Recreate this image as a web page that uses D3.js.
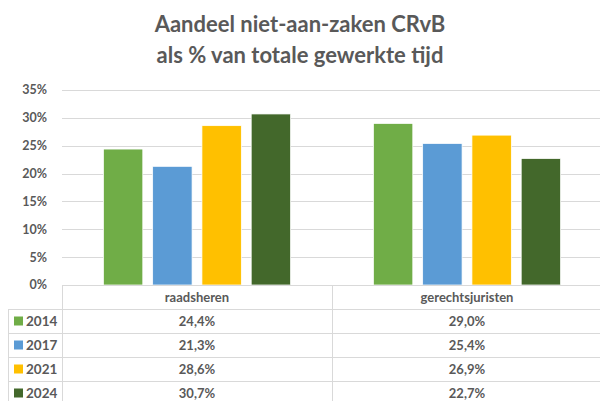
<!DOCTYPE html>
<meta charset="utf-8">
<title>Aandeel niet-aan-zaken CRvB</title>
<style>
body { margin: 0; background: #fff; }
text { font-family: Lato, "Open Sans", sans-serif; font-weight: bold; fill: #595959; }
.grid line { stroke: #d9d9d9; stroke-width: 1; }
.tbl line { stroke: #d9d9d9; stroke-width: 1; }
</style>
<body>
<script src="https://d3js.org/d3.v7.min.js"></script>
<script>

// data
var categories = ["raadsheren", "gerechtsjuristen"];
var years = ["2014", "2017", "2021", "2024"];
var v2014 = [0.244, 0.290];
var v2017 = [0.213, 0.254];
var v2021 = [0.286, 0.269];
var v2024 = [0.307, 0.227];
var yTicks = [0, 0.05, 0.10, 0.15, 0.20, 0.25, 0.30, 0.35];
var titleLines = ["Aandeel niet-aan-zaken CRvB", "als % van totale gewerkte tijd"];

var seriesVals = [v2014, v2017, v2021, v2024];
var colors = ["#70AD47", "#5B9BD5", "#FFC000", "#43682B"];

var width = 600, height = 401;
var rowH = 24;

var nl = d3.formatLocale({decimal: ",", thousands: ".", grouping: [3], currency: ["€", ""]});
var pct0 = nl.format(".0%");
var pct1 = nl.format(".1%");

var svg = d3.select("body").append("svg")
    .attr("width", width)
    .attr("height", height);

svg.append("rect").attr("width", width).attr("height", height).attr("fill", "#fff");

// title
svg.selectAll(".title")
    .data(titleLines)
    .enter().append("text")
    .attr("class", "title")
    .attr("x", 300)
    .attr("y", function(d, i) { return 32 + i * 31; })
    .attr("text-anchor", "middle")
    .style("font-size", "22px")
    .text(function(d) { return d; });

var y = d3.scaleLinear()
    .domain([0, 0.35])
    .range([285, 90]);

var x0 = d3.scaleBand()
    .domain(categories)
    .range([62, 602])
    .padding(0);

var x1 = d3.scaleBand()
    .domain(years)
    .range([0, x0.bandwidth()])
    .paddingInner(0.2)
    .paddingOuter(0.84);

// gridlines
var grid = svg.append("g").attr("class", "grid");
grid.selectAll("line")
    .data(yTicks.slice(1))
    .enter().append("line")
    .attr("x1", 62).attr("x2", width)
    .attr("y1", function(d) { return Math.round(y(d)) + 0.5; })
    .attr("y2", function(d) { return Math.round(y(d)) + 0.5; });

// y labels
svg.selectAll(".ylab")
    .data(yTicks)
    .enter().append("text")
    .attr("class", "ylab")
    .attr("x", 47)
    .attr("y", function(d) { return y(d); })
    .attr("dy", "0.35em")
    .attr("text-anchor", "end")
    .style("font-size", "12.5px")
    .text(function(d) { return pct0(d); });

// bars
var groups = svg.selectAll(".series")
    .data(seriesVals)
    .enter().append("g")
    .attr("class", "series")
    .attr("fill", function(d, i) { return colors[i]; });

groups.each(function(vals, si) {
  d3.select(this).selectAll("rect")
    .data(vals)
    .enter().append("rect")
    .attr("x", function(d, ci) { return x0(categories[ci]) + x1(years[si]); })
    .attr("width", x1.bandwidth())
    .attr("y", function(d) { return y(d); })
    .attr("height", function(d) { return y(0) - y(d); })
    .attr("stroke", "#fff")
    .attr("stroke-width", 0.75);
});

// data table
var tableTop = y(0);
var tbl = svg.append("g").attr("class", "tbl");
var tblLeft = 8.5;

tbl.append("line").attr("x1", 62).attr("x2", width).attr("y1", tableTop + 0.5).attr("y2", tableTop + 0.5);
years.forEach(function(yr, i) {
  var yy = tableTop + rowH * (i + 1) + 0.5;
  tbl.append("line").attr("x1", tblLeft).attr("x2", width).attr("y1", yy).attr("y2", yy);
});
tbl.append("line").attr("x1", tblLeft).attr("x2", tblLeft).attr("y1", tableTop + rowH).attr("y2", height);
tbl.append("line").attr("x1", 62.5).attr("x2", 62.5).attr("y1", tableTop).attr("y2", height);
tbl.append("line").attr("x1", 332.5).attr("x2", 332.5).attr("y1", tableTop).attr("y2", height);

// header
svg.selectAll(".cat")
    .data(categories)
    .enter().append("text")
    .attr("class", "cat")
    .attr("x", function(d) { return x0(d) + x0.bandwidth() / 2; })
    .attr("y", tableTop + rowH / 2)
    .attr("dy", "0.35em")
    .attr("text-anchor", "middle")
    .style("font-size", "13px")
    .text(function(d) { return d; });

// rows
years.forEach(function(yr, i) {
  var cy = tableTop + rowH * (i + 1) + rowH / 2;
  svg.append("rect")
      .attr("x", 14).attr("y", cy - 4.5)
      .attr("width", 9).attr("height", 9)
      .attr("fill", colors[i]);
  svg.append("text")
      .attr("x", 26).attr("y", cy)
      .attr("dy", "0.35em")
      .style("font-size", "13.5px")
      .text(yr);
  svg.selectAll(".val" + yr)
      .data(seriesVals[i])
      .enter().append("text")
      .attr("x", function(d, ci) { return x0(categories[ci]) + x0.bandwidth() / 2; })
      .attr("y", cy)
      .attr("dy", "0.35em")
      .attr("text-anchor", "middle")
      .style("font-size", "13px")
      .text(function(d) { return pct1(d); });
});

</script>
